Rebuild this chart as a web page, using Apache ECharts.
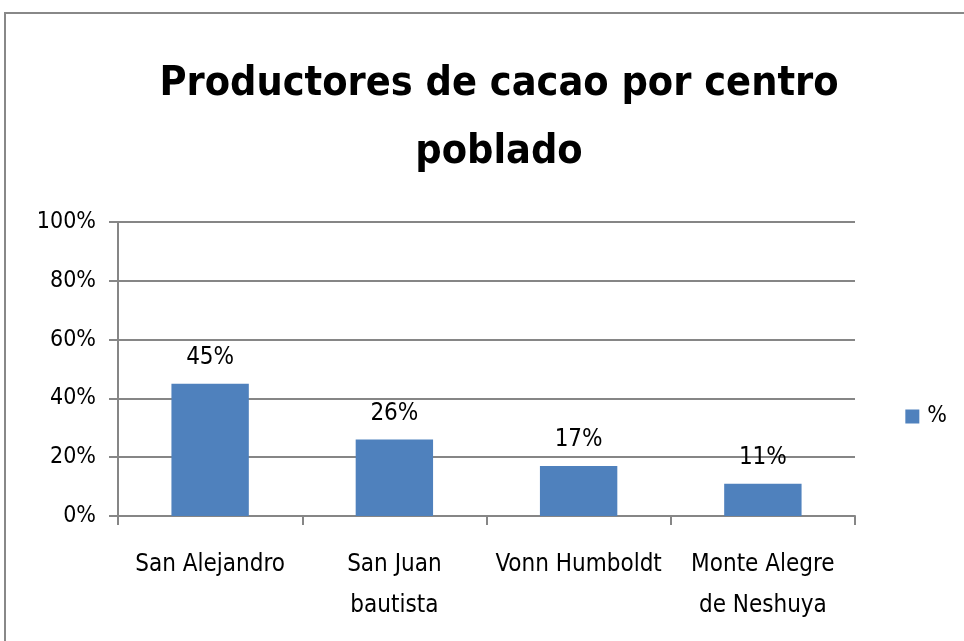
<!DOCTYPE html>
<html>
<head>
<meta charset="utf-8">
<script src="https://cdn.jsdelivr.net/npm/echarts@6/dist/echarts.min.js"></script>
<style>
  html, body { margin: 0; padding: 0; background: #fff; }
  #chart { width: 964px; height: 641px; }
</style>
</head>
<body>
<div id="chart"></div>
<script>
const categories = ["San Alejandro", "San Juan\nbautista", "Vonn Humboldt", "Monte Alegre\nde Neshuya"];
const values = [0.45, 0.26, 0.17, 0.11];
const seriesName = "%";

const font = "'Liberation Sans Narrow', 'DejaVu Sans Condensed', sans-serif";
const chart = echarts.init(document.getElementById("chart"));

chart.setOption({
  backgroundColor: "#fff",
  animation: false,
  graphic: [
    {
      type: "rect",
      shape: { x: 5, y: 13, width: 1000, height: 700 },
      style: { fill: "none", stroke: "#888", lineWidth: 2 },
      silent: true
    }
  ],
  title: {
    text: "Productores de cacao por centro\npoblado",
    left: 494,
    top: 45,
    textAlign: "center",
    textStyle: {
      fontFamily: font,
      fontWeight: "bold",
      fontSize: 41,
      lineHeight: 68,
      color: "#000"
    }
  },
  legend: {
    data: [{ name: seriesName, icon: "rect" }],
    right: 12,
    top: 400,
    itemWidth: 14,
    itemHeight: 14,
    itemGap: 10,
    textStyle: { fontFamily: font, fontSize: 23, color: "#000", padding: [0, 0, 0, 3] }
  },
  grid: { left: 118, right: 109, top: 222, bottom: 125 },
  xAxis: {
    type: "category",
    data: categories,
    axisLine: { lineStyle: { color: "#868686", width: 2 } },
    axisTick: { show: true, length: 9, lineStyle: { color: "#868686", width: 2 } },
    axisLabel: {
      fontFamily: font,
      fontSize: 24,
      color: "#000",
      margin: 28,
      lineHeight: 41,
      interval: 0
    }
  },
  yAxis: {
    type: "value",
    min: 0,
    max: 1,
    interval: 0.2,
    axisLine: { show: true, lineStyle: { color: "#868686", width: 2 } },
    axisTick: { show: true, length: 9, lineStyle: { color: "#868686", width: 2 } },
    splitLine: { lineStyle: { color: "#868686", width: 2 } },
    axisLabel: {
      fontFamily: font,
      fontSize: 23,
      color: "#000",
      margin: 22,
      formatter: v => Math.round(v * 100) + "%"
    }
  },
  series: [
    {
      name: seriesName,
      type: "bar",
      data: values,
      barWidth: "42%",
      itemStyle: { color: "#4F81BD" },
      label: {
        show: true,
        position: "top",
        distance: 14,
        fontFamily: font,
        fontSize: 24,
        color: "#000",
        formatter: p => Math.round(p.value * 100) + "%"
      }
    }
  ]
});
</script>
</body>
</html>
